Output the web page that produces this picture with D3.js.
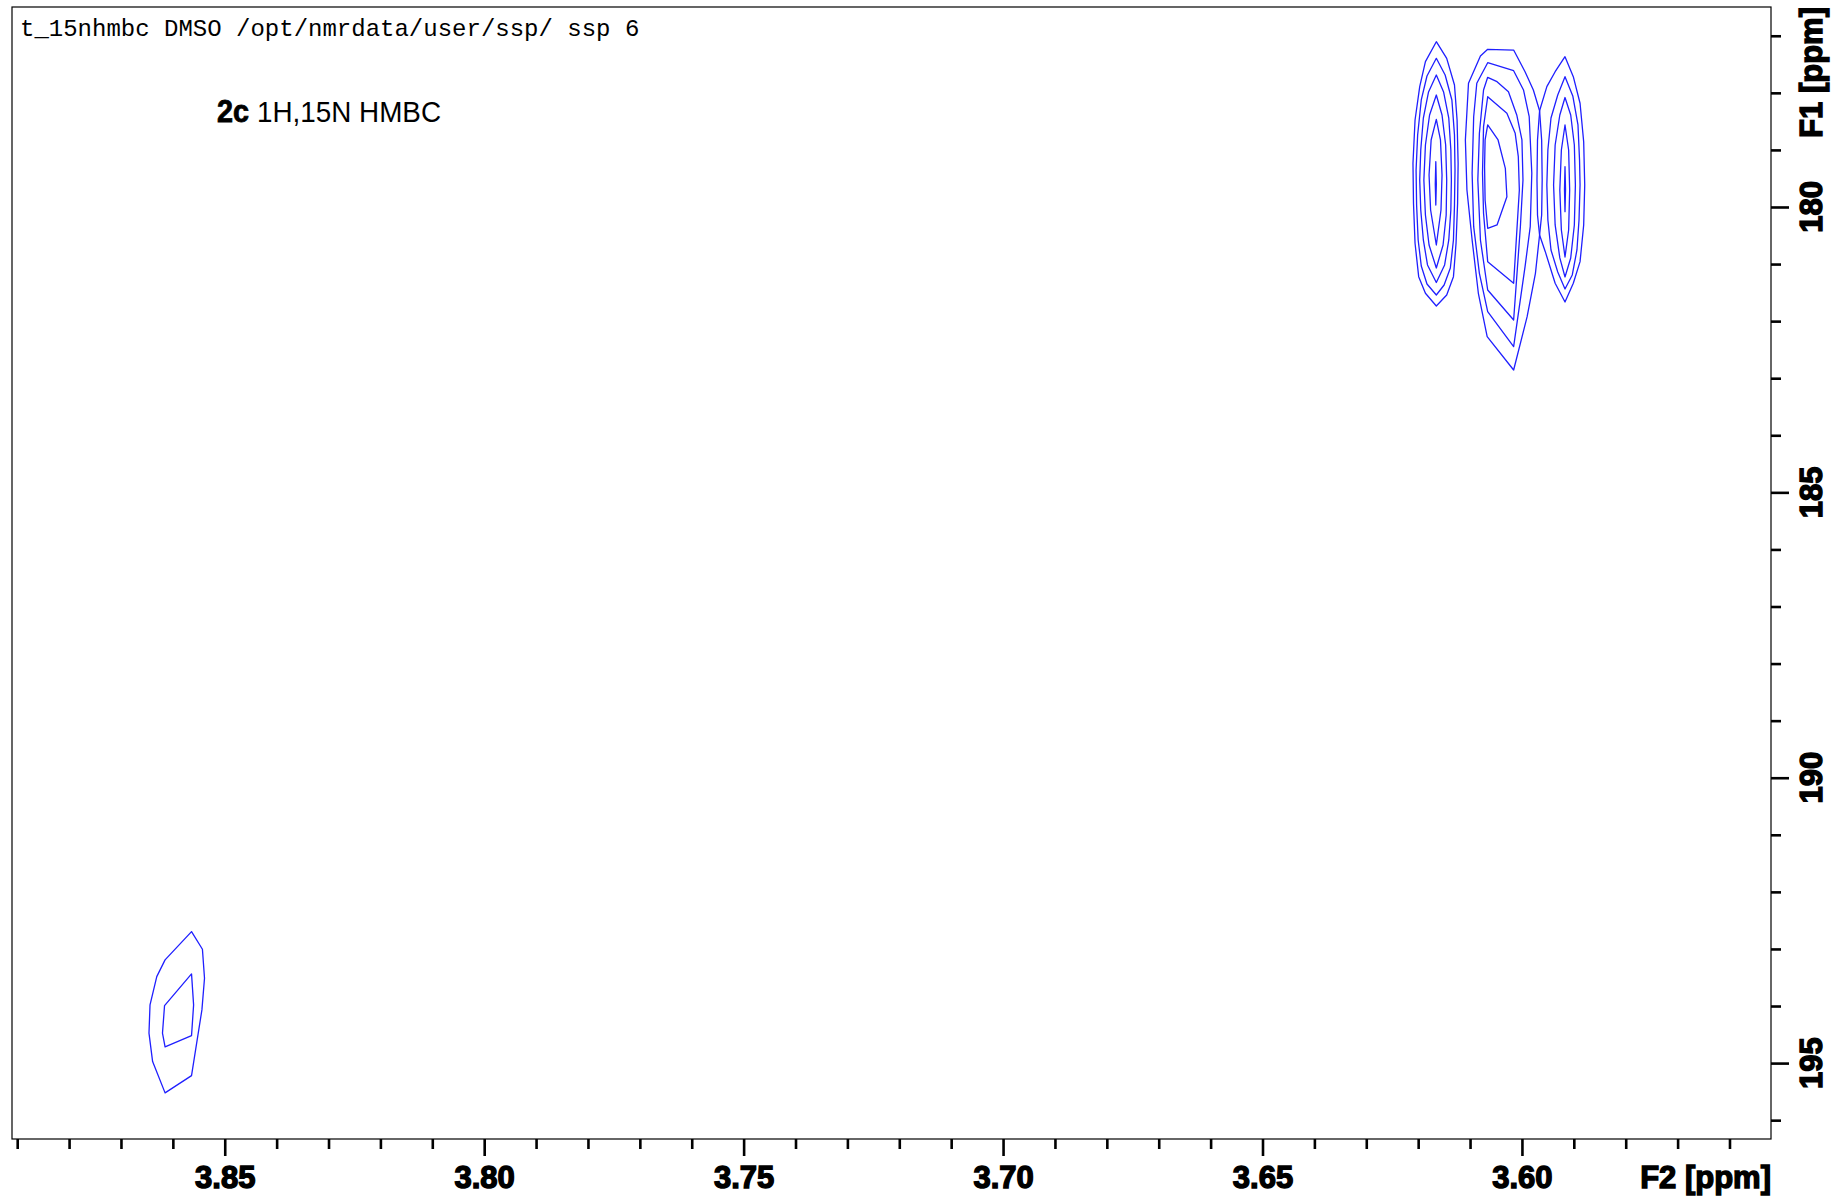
<!DOCTYPE html>
<html><head><meta charset="utf-8">
<script src="https://cdn.jsdelivr.net/npm/d3@7"></script>
<style>html,body{margin:0;padding:0;background:#fff;} svg{display:block;}</style>
</head><body>
<svg id="chart" width="1834" height="1197"></svg>
<script>
// ---- texts ----
const headerText = "t_15nhmbc DMSO /opt/nmrdata/user/ssp/ ssp 6";
const titleBold = "2c";
const titleRest = "1H,15N HMBC";
const xAxisTitle = "F2 [ppm]";
const yAxisTitle = "F1 [ppm]";

// ---- axes (ppm) ----
const xDomain = [3.8910, 3.5520];
const yDomain = [176.496, 196.33];
const xMajorTicks = [3.85, 3.80, 3.75, 3.70, 3.65, 3.60];
const xMajorLabels = ["3.85", "3.80", "3.75", "3.70", "3.65", "3.60"];
const xMinorTicks = [3.89, 3.88, 3.87, 3.86, 3.84, 3.83, 3.82, 3.81, 3.79, 3.78, 3.77, 3.76,
                     3.74, 3.73, 3.72, 3.71, 3.69, 3.68, 3.67, 3.66, 3.64, 3.63, 3.62, 3.61,
                     3.59, 3.58, 3.57, 3.56];
const yMajorTicks = [180, 185, 190, 195];
const yMajorLabels = ["180", "185", "190", "195"];
const yMinorTicks = [177, 178, 179, 181, 182, 183, 184, 186, 187, 188, 189, 191, 192, 193, 194, 196];

// ---- contour levels: vertices [F2 ppm, F1 ppm] ----
const peakA = [
  [[3.6165,177.104],[3.6145,177.395],[3.6130,177.863],[3.6125,178.476],[3.6123,179.234],[3.6124,179.935],[3.6127,180.636],[3.6132,181.221],[3.6145,181.542],[3.6165,181.734],[3.6186,181.512],[3.6199,181.221],[3.6206,180.636],[3.6209,179.935],[3.6210,179.234],[3.6206,178.476],[3.6197,177.892],[3.6186,177.454]],
  [[3.6165,177.395],[3.6148,177.687],[3.6135,178.125],[3.6130,178.739],[3.6129,179.352],[3.6130,179.965],[3.6132,180.578],[3.6138,181.069],[3.6150,181.367],[3.6165,181.542],[3.6183,181.349],[3.6194,181.034],[3.6200,180.578],[3.6203,179.965],[3.6204,179.352],[3.6201,178.739],[3.6194,178.125],[3.6183,177.705]],
  [[3.6165,177.687],[3.6151,177.985],[3.6141,178.441],[3.6137,179.001],[3.6136,179.527],[3.6137,180.053],[3.6141,180.578],[3.6149,181.016],[3.6165,181.323],[3.6182,181.016],[3.6190,180.578],[3.6195,180.053],[3.6197,179.527],[3.6195,179.001],[3.6190,178.441],[3.6180,177.985]],
  [[3.6165,178.038],[3.6154,178.388],[3.6147,178.914],[3.6145,179.527],[3.6146,180.140],[3.6152,180.666],[3.6165,181.069],[3.6179,180.666],[3.6186,180.140],[3.6189,179.527],[3.6186,178.914],[3.6178,178.388]],
  [[3.6165,178.464],[3.6157,178.826],[3.6154,179.439],[3.6156,180.053],[3.6165,180.666],[3.6176,180.053],[3.6179,179.439],[3.6175,178.826]],
  [[3.6166,179.206],[3.6165,179.600],[3.6166,179.965],[3.6167,179.600]]
];
const peakB = [
  [[3.6066,177.237],[3.6016,177.250],[3.5994,177.630],[3.5978,177.950],[3.5966,178.313],[3.5970,178.826],[3.5971,179.527],[3.5970,180.140],[3.5966,180.491],[3.5974,181.162],[3.5990,181.922],[3.6016,182.856],[3.6067,182.272],[3.6084,181.512],[3.6096,180.578],[3.6106,179.702],[3.6109,178.826],[3.6103,177.833],[3.6080,177.355]],
  [[3.6066,177.472],[3.6016,177.612],[3.5997,177.950],[3.5986,178.418],[3.5981,179.410],[3.5984,180.345],[3.5994,181.046],[3.6016,182.447],[3.6066,181.834],[3.6082,181.162],[3.6093,180.345],[3.6096,179.410],[3.6093,178.418],[3.6087,177.833]],
  [[3.6066,177.728],[3.6048,177.805],[3.6026,177.980],[3.6010,178.388],[3.6000,178.826],[3.5998,179.527],[3.6003,180.345],[3.6016,181.980],[3.6066,181.454],[3.6080,180.578],[3.6085,179.527],[3.6082,178.709],[3.6074,177.950]],
  [[3.6066,178.068],[3.6029,178.359],[3.6013,178.709],[3.6007,179.119],[3.6005,179.702],[3.6016,181.337],[3.6066,180.958],[3.6074,180.110],[3.6076,179.410],[3.6074,178.593]],
  [[3.6066,178.563],[3.6046,178.826],[3.6032,179.322],[3.6029,179.820],[3.6048,180.315],[3.6066,180.373],[3.6071,179.877],[3.6072,179.294],[3.6071,178.826]]
];
const peakC = [
  [[3.5917,177.367],[3.5901,177.717],[3.5888,178.183],[3.5881,178.856],[3.5879,179.615],[3.5881,180.315],[3.5888,180.958],[3.5901,181.337],[3.5917,181.664],[3.5936,181.337],[3.5955,180.783],[3.5966,180.491],[3.5962,180.140],[3.5961,179.527],[3.5962,178.826],[3.5966,178.313],[3.5952,177.892],[3.5936,177.630]],
  [[3.5917,177.717],[3.5902,178.055],[3.5892,178.563],[3.5889,179.177],[3.5888,179.615],[3.5890,180.228],[3.5894,180.753],[3.5903,181.191],[3.5917,181.437],[3.5931,181.139],[3.5944,180.753],[3.5950,180.228],[3.5952,179.615],[3.5950,179.001],[3.5944,178.441],[3.5931,178.038]],
  [[3.5917,178.082],[3.5906,178.388],[3.5899,178.914],[3.5897,179.615],[3.5899,180.315],[3.5906,180.893],[3.5917,181.226],[3.5927,180.893],[3.5936,180.315],[3.5939,179.615],[3.5936,178.914],[3.5927,178.388]],
  [[3.5917,178.563],[3.5910,179.001],[3.5908,179.702],[3.5910,180.403],[3.5917,180.876],[3.5924,180.403],[3.5927,179.702],[3.5924,179.001]],
  [[3.5917,179.294],[3.5916,179.689],[3.5917,180.082],[3.5918,179.689]]
];
const peakD = [
  [[3.8564,192.696],[3.8543,193.005],[3.8539,193.513],[3.8544,194.068],[3.8564,195.219],[3.8615,195.522],[3.8639,194.974],[3.8646,194.476],[3.8644,193.980],[3.8631,193.485],[3.8615,193.192]],
  [[3.8564,193.437],[3.8560,193.980],[3.8564,194.518],[3.8615,194.716],[3.8620,194.476],[3.8616,193.992]]
];

// ---- drawing ----
const svg = d3.select("#chart");
const plot = {left: 12, top: 7, right: 1771, bottom: 1139};
const x = d3.scaleLinear().domain(xDomain).range([plot.left, plot.right]);
const y = d3.scaleLinear().domain(yDomain).range([plot.top, plot.bottom]);

const labelFont = "'Liberation Sans', Arial, Helvetica, sans-serif";
const contourColor = "#1f1fff";

// contours
const line = d3.line().x(d => x(d[0])).y(d => y(d[1])).curve(d3.curveLinearClosed);
const allContours = [].concat(peakA, peakB, peakC, peakD);
svg.append("g").selectAll("path").data(allContours).join("path")
  .attr("d", line)
  .attr("fill", "none")
  .attr("stroke", contourColor)
  .attr("stroke-width", 1.3)
  .attr("stroke-linejoin", "round");

// frame
svg.append("rect")
  .attr("x", plot.left).attr("y", plot.top)
  .attr("width", plot.right - plot.left).attr("height", plot.bottom - plot.top)
  .attr("fill", "none").attr("stroke", "#000").attr("stroke-width", 1.2);

// x axis
const gxMinor = svg.append("g").attr("transform", `translate(0,${plot.bottom})`)
  .call(d3.axisBottom(x).tickValues(xMinorTicks).tickSize(10).tickFormat(""));
const gxMajor = svg.append("g").attr("transform", `translate(0,${plot.bottom})`)
  .call(d3.axisBottom(x).tickValues(xMajorTicks).tickSize(17).tickPadding(10)
        .tickFormat((d, i) => xMajorLabels[i]));
[gxMinor, gxMajor].forEach(g => {
  g.select(".domain").remove();
  g.selectAll(".tick line").attr("stroke", "#000").attr("stroke-width", 2.6);
});
gxMajor.selectAll(".tick text")
  .attr("font-family", labelFont).attr("font-weight", "bold").attr("font-size", 31)
  .attr("fill", "#000").attr("stroke", "#000").attr("stroke-width", 1.4);

svg.append("text")
  .attr("x", plot.right).attr("y", 1188)
  .attr("text-anchor", "end")
  .attr("font-family", labelFont).attr("font-weight", "bold").attr("font-size", 31)
  .attr("fill", "#000").attr("stroke", "#000").attr("stroke-width", 1.4)
  .text(xAxisTitle);

// y axis (right side)
const gyMinor = svg.append("g").attr("transform", `translate(${plot.right},0)`)
  .call(d3.axisRight(y).tickValues(yMinorTicks).tickSize(10).tickFormat(""));
const gyMajor = svg.append("g").attr("transform", `translate(${plot.right},0)`)
  .call(d3.axisRight(y).tickValues(yMajorTicks).tickSize(18).tickFormat(""));
[gyMinor, gyMajor].forEach(g => {
  g.select(".domain").remove();
  g.selectAll(".tick line").attr("stroke", "#000").attr("stroke-width", 2.6);
});
svg.append("g").selectAll("text").data(yMajorTicks).join("text")
  .attr("transform", d => `translate(1822,${y(d)}) rotate(-90)`)
  .attr("text-anchor", "middle")
  .attr("font-family", labelFont).attr("font-weight", "bold").attr("font-size", 31)
  .attr("fill", "#000").attr("stroke", "#000").attr("stroke-width", 1.4)
  .text((d, i) => yMajorLabels[i]);

svg.append("text")
  .attr("transform", `translate(1822,${plot.top}) rotate(-90)`)
  .attr("text-anchor", "end")
  .attr("font-family", labelFont).attr("font-weight", "bold").attr("font-size", 31)
  .attr("fill", "#000").attr("stroke", "#000").attr("stroke-width", 1.4)
  .text(yAxisTitle);

// header
svg.append("text")
  .attr("x", 20).attr("y", 36)
  .attr("font-family", "'Courier New', 'Liberation Mono', monospace")
  .attr("font-size", 24).attr("fill", "#000")
  .attr("xml:space", "preserve")
  .text(headerText);

// title
svg.append("text")
  .attr("x", 217).attr("y", 122)
  .attr("font-family", labelFont).attr("font-weight", "bold").attr("font-size", 31)
  .attr("textLength", 32).attr("lengthAdjust", "spacingAndGlyphs")
  .attr("fill", "#000").attr("stroke", "#000").attr("stroke-width", 0.8)
  .text(titleBold);
svg.append("text")
  .attr("x", 257).attr("y", 122)
  .attr("font-family", labelFont).attr("font-size", 30)
  .attr("textLength", 184).attr("lengthAdjust", "spacingAndGlyphs")
  .attr("fill", "#000")
  .text(titleRest);
</script>
</body></html>
